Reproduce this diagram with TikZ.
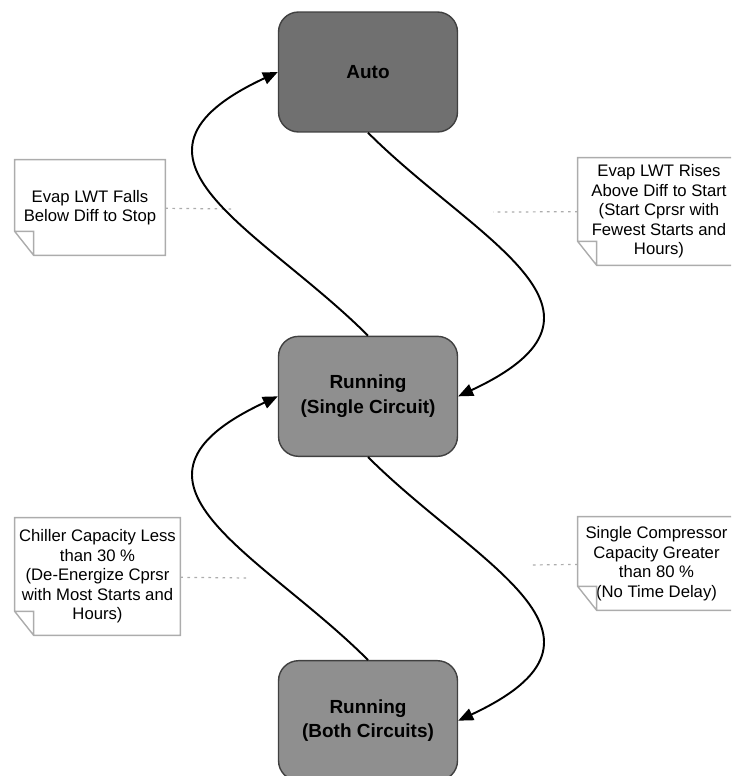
\documentclass[tikz,border=0pt]{standalone}
\usepackage{fontspec}
\setmainfont{Liberation Sans}
\usetikzlibrary{positioning,arrows.meta}

\definecolor{autogray}{RGB}{112,112,112}
\definecolor{rungray}{RGB}{143,143,143}
\definecolor{notegray}{RGB}{172,172,172}

\tikzset{
	statebox/.style={draw=black!75, line width=0.8pt, rounded corners=0.4cm, minimum width=3.58cm, minimum height=2.4cm, align=center, font=\bfseries\fontsize{10.8}{14}\selectfont},
	notebox/.style={align=center, inner sep=0pt, font=\fontsize{9.5}{11.1}\selectfont},
	flow/.style={line width=1.1pt, -{Triangle[length=8.5pt,width=7pt]}},
	hint/.style={notegray, line width=0.7pt, dash pattern=on 1.5pt off 2.5pt},
}

\begin{document}
\begin{tikzpicture}[x=0.02cm, y=-0.02cm, node distance=4.06cm]
	\useasboundingbox (0,0) rectangle (731,776);
	\clip (0,0) rectangle (731,776);

	\node[statebox, fill=autogray] (auto) at (368,72) {Auto};
	\node[statebox, fill=rungray, below=of auto] (single) {Running\\(Single Circuit)};
	\node[statebox, fill=rungray, below=of single] (both) {Running\\(Both Circuits)};

	\node[notebox, minimum width=3cm, minimum height=1.9cm] (fall) at (90,207.5) {Evap LWT Falls\\Below Diff to Stop};
	\node[notebox, minimum width=3.24cm, minimum height=2.14cm] (rise) at (659,211.5) {Evap LWT Rises\\Above Diff to Start\\(Start Cprsr with\\Fewest Starts and\\Hours)};
	\node[notebox, minimum width=3.3cm, minimum height=2.34cm] (less) at (97.5,576.5) {Chiller Capacity Less\\than 30 \%\\(De-Energize Cprsr\\with Most Starts and\\Hours)};
	\node[notebox, minimum width=3.14cm, minimum height=1.86cm] (greater) at (656.5,563.5) {Single Compressor\\Capacity Greater\\than 80 \%\\(No Time Delay)};

	\foreach \nt in {fall,rise,less,greater}
		\draw[notegray, line width=0.8pt] (\nt.north west) -- (\nt.north east) -- (\nt.south east) -- ([xshift=0.38cm]\nt.south west) -- ([yshift=0.48cm]\nt.south west) -- cycle
			([yshift=0.48cm]\nt.south west) -- ([shift={(0.38cm,0.48cm)}]\nt.south west) -- ([xshift=0.38cm]\nt.south west);

	\coordinate (fallend) at (232,209);
	\coordinate (riseend) at (493,212);
	\coordinate (lessend) at (250,578);
	\coordinate (greaterend) at (530,565);
	\draw[hint] (fall) -- (fallend);
	\draw[hint] (rise) -- (riseend);
	\draw[hint] (less) -- (lessend);
	\draw[hint] (greater) -- (greaterend);

	\draw[flow] (single.north) to[out=135, in=205, out looseness=1.4, in looseness=1.85] (auto.west);
	\draw[flow] (auto.south) to[out=-45, in=25, out looseness=1.4, in looseness=1.85] (single.east);
	\draw[flow] (both.north) to[out=135, in=205, out looseness=1.4, in looseness=1.85] (single.west);
	\draw[flow] (single.south) to[out=-45, in=25, out looseness=1.4, in looseness=1.85] (both.east);
\end{tikzpicture}
\end{document}
